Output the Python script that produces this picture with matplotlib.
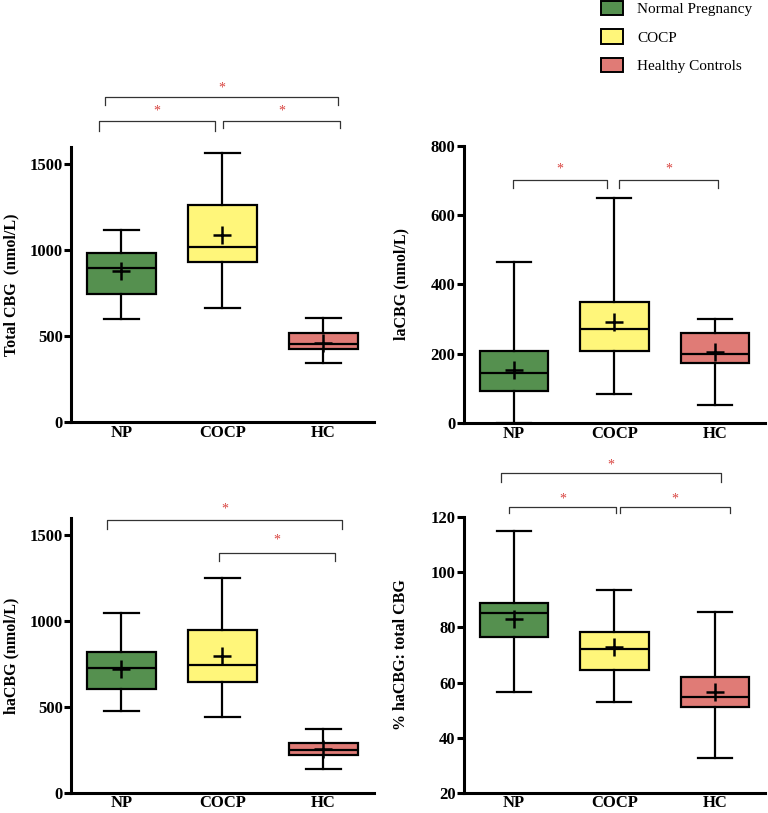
import numpy as np
import matplotlib.pyplot as plt
from matplotlib.patches import Patch

plt.rcParams['font.family'] = ['Liberation Serif', 'DejaVu Serif']

groups = ['NP', 'COCP', 'HC']
legend_names = ['Normal Pregnancy', 'COCP', 'Healthy Controls']
colors = ['#55904F', '#FFF67A', '#E07B76']

# box stats per panel: [whislo, q1, med, q3, whishi, mean]
total_cbg = [[597, 747, 894, 981, 1118, 877],
             [662, 931, 1020, 1265, 1566, 1091],
             [342, 423, 456, 517, 607, 460]]
la_cbg = [[0, 91, 144, 207, 465, 152],
          [82, 208, 272, 349, 649, 292],
          [50, 174, 200, 258, 299, 205]]
ha_cbg = [[478, 604, 725, 822, 1045, 720],
          [441, 648, 743, 948, 1254, 799],
          [136, 219, 248, 290, 374, 257]]
pct_ha = [[56.7, 76.5, 85.4, 88.9, 115, 83],
          [52.9, 64.7, 72, 78.5, 93.5, 73],
          [32.7, 51.1, 54.9, 62, 85.6, 56.6]]

# significance brackets: (x_left, x_right, y_line, y_leg_end, y_star)
brackets_total = [(0.78, 1.93, 1754, 1692, 1808),
                  (2.01, 3.16, 1754, 1712, 1808),
                  (0.84, 3.14, 1894, 1848, 1947)]
brackets_la = [(0.99, 1.93, 701, 677, 733),
               (2.05, 3.03, 701, 677, 733)]
brackets_ha = [(0.86, 3.18, 1590, 1540, 1652),
               (1.97, 3.11, 1397, 1350, 1476)]
brackets_pct = [(0.95, 2.02, 123.6, 121.5, 126.8),
                (2.06, 3.15, 123.6, 121.5, 126.8),
                (0.87, 3.06, 136, 133, 139)]

panels = [
    (total_cbg, 'Total CBG  (nmol/L)', (0, 1600), [0, 500, 1000, 1500], brackets_total,
     [0.0924, 0.481, 0.3945, 0.338], 7.5),
    (la_cbg, 'laCBG (nmol/L)', (0, 800), [0, 200, 400, 600, 800], brackets_la,
     [0.604, 0.480, 0.392, 0.3407], 15.5),
    (ha_cbg, 'haCBG (nmol/L)', (0, 1600), [0, 500, 1000, 1500], brackets_ha,
     [0.0924, 0.025, 0.3945, 0.3375], 7.5),
    (pct_ha, '% haCBG: total CBG', (20, 120), [20, 40, 60, 80, 100, 120], brackets_pct,
     [0.604, 0.025, 0.392, 0.3387], 15.5),
]

fig = plt.figure(figsize=(7.68, 8.13), dpi=100)

for stats, ylabel, ylim, yticks, brackets, pos, lpad in panels:
    ax = fig.add_axes(pos)
    bxp = [dict(whislo=s[0], q1=s[1], med=s[2], q3=s[3], whishi=s[4], mean=s[5], fliers=[])
           for s in stats]
    b = ax.bxp(bxp, positions=[1, 2, 3], widths=0.68, patch_artist=True,
               showmeans=True, meanline=False,
               boxprops=dict(linewidth=1.6, edgecolor='black'),
               medianprops=dict(color='black', linewidth=1.6),
               whiskerprops=dict(linewidth=1.6),
               capprops=dict(linewidth=1.6),
               meanprops=dict(marker='+', markersize=13, markeredgewidth=1.8,
                              markeredgecolor='black'))
    for patch, c in zip(b['boxes'], colors):
        patch.set_facecolor(c)
    for cap in b['caps']:
        mid = cap.get_xdata().mean()
        cap.set_xdata([mid - 0.17, mid + 0.17])

    ax.set_xlim(0.5, 3.5)
    ax.set_ylim(*ylim)
    ax.set_yticks(yticks)
    ax.set_xticks([1, 2, 3])
    ax.set_xticklabels(groups, fontsize=12, fontweight='bold')
    for t in ax.get_yticklabels():
        t.set_fontsize(12)
        t.set_fontweight('bold')
    ax.set_ylabel(ylabel, fontsize=11.5, fontweight='bold', labelpad=lpad)
    ax.spines['top'].set_visible(False)
    ax.spines['right'].set_visible(False)
    ax.spines['left'].set_linewidth(2.2)
    ax.spines['bottom'].set_linewidth(2.2)
    ax.tick_params(axis='y', width=2.2, length=5, pad=1)
    ax.tick_params(axis='x', length=0, pad=2)

    for x0, x1, yl, yleg, ys in brackets:
        ax.plot([x0, x0, x1, x1], [yleg, yl, yl, yleg], color='#333333',
                linewidth=0.9, clip_on=False)
        ax.text((x0 + x1) / 2, ys, '*', color='#D9433F', fontsize=10,
                ha='center', va='center', clip_on=False)

handles = [Patch(facecolor=c, edgecolor='black', linewidth=1.4) for c in colors]
fig.legend(handles, legend_names, loc='upper left', bbox_to_anchor=(0.765, 1.016),
           frameon=False, fontsize=11, handlelength=1.45, handleheight=1.1,
           labelspacing=0.85, handletextpad=0.9)

fig.savefig('out.png', dpi=100)
